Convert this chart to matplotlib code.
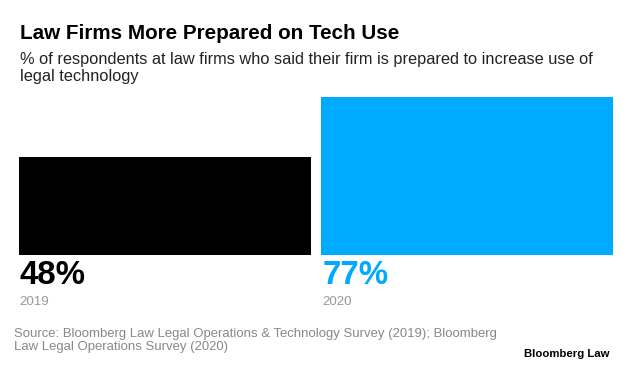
import matplotlib
matplotlib.use("Agg")
import matplotlib.pyplot as plt

# ---- data ----
years = ["2019", "2020"]
values = [48, 77]
value_labels = ["48%", "77%"]
colors = ["#000000", "#00AAFF"]

title = "Law Firms More Prepared on Tech Use"
subtitle = ("% of respondents at law firms who said their firm is prepared to increase use of\n"
            "legal technology")
source = ("Source: Bloomberg Law Legal Operations & Technology Survey (2019); Bloomberg\n"
          "Law Legal Operations Survey (2020)")
brand = "Bloomberg Law"

W, H = 633, 374
plt.rcParams['font.family'] = ['Liberation Sans', 'DejaVu Sans']
fig = plt.figure(figsize=(W / 100, H / 100), dpi=100)
fig.patch.set_facecolor("white")


def fx(x):
    return x / W


def fy(y):
    return 1 - y / H


# axes in pixel layout: left 19.3, right 613.3, bottom 255, top 50.2
ax = fig.add_axes([fx(19.3), fy(255), (613.3 - 19.3) / W, (255 - 50.2) / H])
xs = list(range(len(values)))
width = 0.9656
ax.bar(xs, values, width=width, color=colors, edgecolor="none")
ax.set_xlim(-width / 2, len(values) - 1 + width / 2)
ax.set_ylim(0, 100)
ax.axis("off")

# value labels and year labels under bars
for i, (lab, yr, c) in enumerate(zip(value_labels, years, colors)):
    ax.annotate(lab, xy=(i - width / 2, 0), xycoords="data",
                xytext=(0.5, -29.5 * 72 / 100), textcoords="offset points",
                ha="left", va="baseline", fontsize=23.8, fontweight="bold", color=c)
    ax.annotate(yr, xy=(i - width / 2, 0), xycoords="data",
                xytext=(0.3, -50 * 72 / 100), textcoords="offset points",
                ha="left", va="baseline", fontsize=9.6, color="#999999")

fig.text(fx(19.5), fy(39), title, fontsize=14.9, fontweight="bold",
         color="#000000", ha="left", va="baseline")
fig.text(fx(19.5), fy(81), subtitle, fontsize=11.75, color="#222222",
         ha="left", va="baseline", linespacing=1.16)
fig.text(fx(14.5), fy(350), source, fontsize=9.45, color="#888888",
         ha="left", va="baseline", linespacing=1.15)
fig.text(fx(610), fy(357), brand, fontsize=8.2, fontweight="bold",
         color="#000000", ha="right", va="baseline")

fig.savefig("out.png", dpi=100, facecolor="white")
